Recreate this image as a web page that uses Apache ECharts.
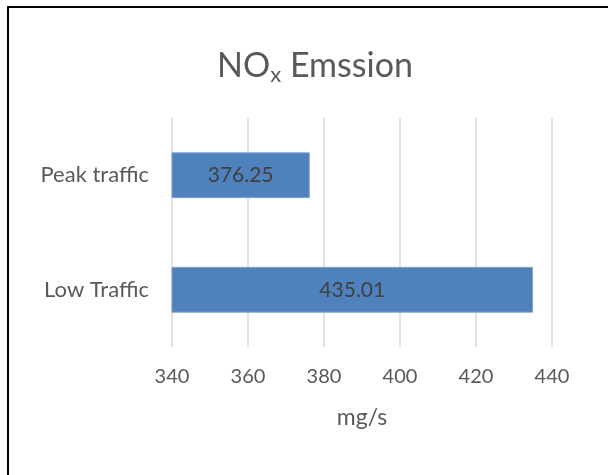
<!DOCTYPE html>
<html>
<head>
<meta charset="utf-8">
<script src="https://cdn.jsdelivr.net/npm/echarts@6/dist/echarts.min.js"></script>
<style>
html,body{margin:0;padding:0;background:#fff;}
#chart{width:608px;height:475px;}
</style>
</head>
<body>
<div id="chart"></div>
<script>
const categories = ['Low Traffic', 'Peak traffic'];
const values = [435.01, 376.25];
const xTicks = [340, 360, 380, 400, 420, 440];
const titleParts = ['NO', 'x', ' Emssion'];
const axisName = 'mg/s';

const chart = echarts.init(document.getElementById('chart'), null, {renderer: 'canvas'});
const FONT = 'Lato';
chart.setOption({
  animation: false,
  backgroundColor: '#ffffff',
  graphic: [{
    type: 'rect',
    shape: {x: 8, y: 7, width: 700, height: 600},
    style: {fill: 'none', stroke: '#000000', lineWidth: 2},
    silent: true
  }],
  title: {
    text: '{a|' + titleParts[0] + '}{b|' + titleParts[1] + '}{a|' + titleParts[2] + '}',
    left: 310,
    textAlign: 'center',
    top: 41,
    textStyle: {
      fontWeight: 'normal',
      rich: {
        a: {fontFamily: FONT, fontSize: 34, fontWeight: 'normal', color: '#595959', lineHeight: 40},
        b: {fontFamily: FONT, fontSize: 22, fontWeight: 'normal', color: '#595959', lineHeight: 16, verticalAlign: 'bottom'}
      }
    }
  },
  grid: {left: 172, right: 56, top: 118, bottom: 128, containLabel: false},
  xAxis: {
    type: 'value',
    min: xTicks[0],
    max: xTicks[xTicks.length - 1],
    interval: xTicks[1] - xTicks[0],
    axisLine: {show: false},
    axisTick: {show: false},
    splitLine: {show: true, lineStyle: {color: '#D9D9D9', width: 1.5}},
    axisLabel: {fontFamily: FONT, fontSize: 20, color: '#595959', margin: 20},
    name: axisName,
    nameLocation: 'middle',
    nameGap: 59,
    nameTextStyle: {fontFamily: FONT, fontSize: 23, color: '#595959'}
  },
  yAxis: {
    type: 'category',
    data: categories,
    axisLine: {show: false},
    axisTick: {show: false},
    splitLine: {show: false},
    axisLabel: {fontFamily: FONT, fontSize: 22, color: '#595959', margin: 23}
  },
  series: [{
    type: 'bar',
    data: values,
    barCategoryGap: '60%',
    itemStyle: {color: '#4F81BD', borderColor: '#7FA3CF', borderWidth: 1},
    label: {
      show: true,
      position: 'inside',
      fontFamily: FONT,
      fontSize: 21,
      color: '#404040',
      formatter: function (p) { return p.value.toFixed(2); }
    }
  }]
});
</script>
</body>
</html>
